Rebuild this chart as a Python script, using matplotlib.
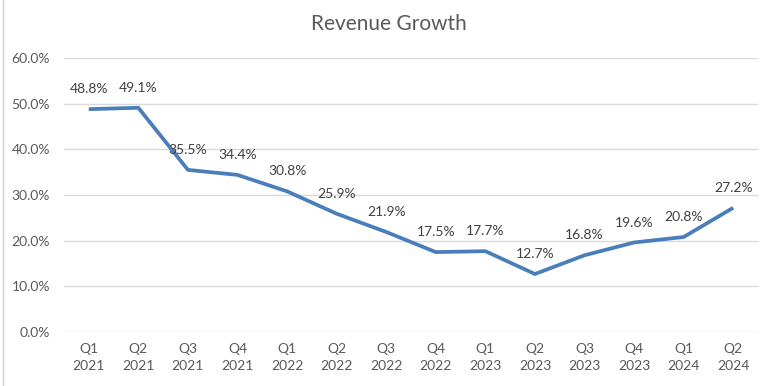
import matplotlib
matplotlib.use("Agg")
import matplotlib.pyplot as plt
from matplotlib.ticker import FuncFormatter

quarters = ["Q1\n2021", "Q2\n2021", "Q3\n2021", "Q4\n2021",
            "Q1\n2022", "Q2\n2022", "Q3\n2022", "Q4\n2022",
            "Q1\n2023", "Q2\n2023", "Q3\n2023", "Q4\n2023",
            "Q1\n2024", "Q2\n2024"]
growth = [48.8, 49.1, 35.5, 34.4, 30.8, 25.9, 21.9, 17.5, 17.7, 12.7, 16.8, 19.6, 20.8, 27.2]
yticks = [0, 10, 20, 30, 40, 50, 60]

plt.rcParams['font.family'] = ['Lato', 'DejaVu Sans']
text_color = "#595959"
line_color = "#4A7EBB"

fig = plt.figure(figsize=(7.68, 3.86), dpi=100)
ax = fig.add_axes([64/768, 54/386, 694/768, 274/386])

x = list(range(len(quarters)))
ax.plot(x, growth, color=line_color, linewidth=2.7, solid_capstyle='butt', zorder=3)
for xi, v in zip(x, growth):
    ax.annotate(f"{v:.1f}%", (xi, v), xytext=(0, 10), textcoords="offset points",
                ha="center", va="bottom", fontsize=10, color="#404040")

ax.set_xlim(-0.5, len(quarters) - 0.5)
ax.set_ylim(0, 60)
ax.set_yticks(yticks)
ax.yaxis.set_major_formatter(FuncFormatter(lambda v, p: f"{v:.1f}%"))
ax.set_xticks(x)
ax.set_xticklabels(quarters)
ax.grid(axis="y", color="#D9D9D9", linewidth=1)
ax.set_axisbelow(True)
for s in ax.spines.values():
    s.set_visible(False)
ax.tick_params(axis="both", length=0, colors=text_color, labelsize=10)
ax.tick_params(axis="y", pad=10)
ax.tick_params(axis="x", pad=8)
for lbl in ax.get_xticklabels():
    lbl.set_linespacing(1.5)

fig.text(389/768, 1 - 24/386, "Revenue Growth", ha="center", va="center",
         fontsize=15, color=text_color)

# left border of the screenshot
fig.add_artist(plt.Line2D([3/768, 3/768], [0, 1], color="#D0D0D0", linewidth=1))

fig.savefig("out.png", dpi=100)
